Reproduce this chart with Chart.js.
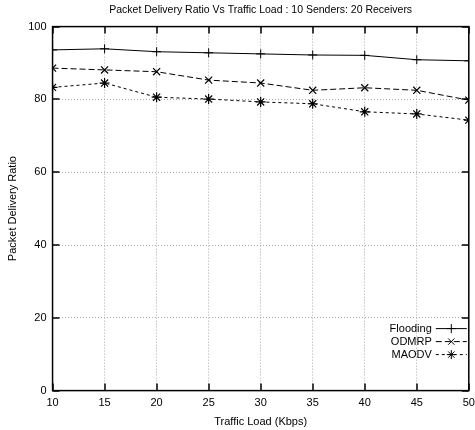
<!DOCTYPE html>
<html><head><meta charset="utf-8">
<script src="https://cdn.jsdelivr.net/npm/chart.js@4/dist/chart.umd.min.js"></script>
<style>html,body{margin:0;padding:0;background:#fff}canvas{display:block}</style>
</head><body>
<canvas id="c" width="475" height="430"></canvas>
<script>
const loads = [10, 15, 20, 25, 30, 35, 40, 45, 50];
const flooding = [93.6, 93.9, 93.1, 92.8, 92.5, 92.2, 92.1, 90.9, 90.6];
const odmrp = [88.6, 88.1, 87.6, 85.3, 84.5, 82.5, 83.2, 82.5, 79.8];
const maodv = [83.3, 84.5, 80.6, 80.1, 79.3, 78.8, 76.6, 76.0, 74.3];
const seriesNames = ['Flooding', 'ODMRP', 'MAODV'];
const yTicks = [0, 20, 40, 60, 80, 100];

const FONT = '"Liberation Sans", Arial, sans-serif';
const toPts = arr => arr.map((v, i) => ({x: loads[i], y: v}));

const insideTicks = {
  id: 'insideTicks',
  afterDraw(chart) {
    const {ctx, chartArea: a, scales: {x, y}} = chart;
    ctx.save();
    ctx.strokeStyle = '#000';
    ctx.lineWidth = 1.5;
    ctx.beginPath();
    loads.forEach(v => {
      const px = Math.round(x.getPixelForValue(v));
      ctx.moveTo(px, a.top); ctx.lineTo(px, a.top + 7);
      ctx.moveTo(px, a.bottom); ctx.lineTo(px, a.bottom - 7);
    });
    yTicks.forEach(v => {
      const py = Math.round(y.getPixelForValue(v));
      ctx.moveTo(a.left, py); ctx.lineTo(a.left + 7, py);
      ctx.moveTo(a.right, py); ctx.lineTo(a.right - 7, py);
    });
    ctx.stroke();
    ctx.lineWidth = 1.5;
    ctx.strokeRect(a.left, a.top, a.right - a.left, a.bottom - a.top);
    // legend
    ctx.font = '11px ' + FONT;
    ctx.textAlign = 'right';
    ctx.textBaseline = 'middle';
    const xr = a.right - 2, sampleW = 31;
    chart.data.datasets.forEach((ds, i) => {
      const yy = a.bottom - 62 + i * 13;
      ctx.fillStyle = '#000';
      ctx.fillText(ds.label, xr - sampleW - 4, yy);
      ctx.beginPath();
      ctx.setLineDash(ds.borderDash || []);
      ctx.lineWidth = 1;
      ctx.moveTo(xr - sampleW, yy); ctx.lineTo(xr, yy);
      ctx.stroke();
      ctx.setLineDash([]);
      const cx = xr - sampleW / 2, r = 4.5;
      ctx.beginPath();
      if (ds.pointStyle === 'cross') {
        ctx.moveTo(cx, yy - r); ctx.lineTo(cx, yy + r);
        ctx.moveTo(cx - r, yy); ctx.lineTo(cx + r, yy);
      } else if (ds.pointStyle === 'crossRot') {
        ctx.moveTo(cx - r*0.7, yy - r*0.7); ctx.lineTo(cx + r*0.7, yy + r*0.7);
        ctx.moveTo(cx - r*0.7, yy + r*0.7); ctx.lineTo(cx + r*0.7, yy - r*0.7);
      } else {
        ctx.moveTo(cx - r*0.7, yy - r*0.7); ctx.lineTo(cx + r*0.7, yy + r*0.7);
        ctx.moveTo(cx - r*0.7, yy + r*0.7); ctx.lineTo(cx + r*0.7, yy - r*0.7);
        ctx.moveTo(cx, yy - r); ctx.lineTo(cx, yy + r);
        ctx.moveTo(cx - r, yy); ctx.lineTo(cx + r, yy);
      }
      ctx.stroke();
    });
    ctx.restore();
  }
};

new Chart(document.getElementById('c'), {
  type: 'line',
  data: {
    datasets: [
      {label: seriesNames[0], data: toPts(flooding), borderColor: '#000', backgroundColor: '#000',
       borderWidth: 1, pointStyle: 'cross', pointRadius: 4.5, pointBorderWidth: 1, tension: 0},
      {label: seriesNames[1], data: toPts(odmrp), borderColor: '#000', backgroundColor: '#000',
       borderWidth: 1, borderDash: [6, 3], pointStyle: 'crossRot', pointRadius: 5, pointBorderWidth: 1.2, tension: 0},
      {label: seriesNames[2], data: toPts(maodv), borderColor: '#000', backgroundColor: '#000',
       borderWidth: 1, borderDash: [3, 3], pointStyle: 'star', pointRadius: 5, pointBorderWidth: 1.2, tension: 0}
    ]
  },
  options: {
    responsive: false,
    animation: false,
    layout: {padding: {left: 6, right: 6, top: 0, bottom: 1}},
    plugins: {
      legend: {display: false},
      tooltip: {enabled: false},
      title: {display: true, fullSize: false, text: 'Packet Delivery Ratio Vs Traffic Load : 10 Senders: 20 Receivers',
              color: '#000', font: {family: FONT, size: 10.5, weight: 'normal'}, padding: {top: 4, bottom: 10}}
    },
    scales: {
      x: {
        type: 'linear', min: 10, max: 50,
        afterBuildTicks: s => { s.ticks = loads.map(v => ({value: v})); },
        afterFit: s => { s.paddingRight = 0; },
        grid: {color: '#aaa', drawTicks: false, lineWidth: 1},
        border: {display: false, dash: [1, 2]},
        ticks: {color: '#000', font: {family: FONT, size: 11}, padding: 6},
        title: {display: true, text: 'Traffic Load (Kbps)', color: '#000', font: {family: FONT, size: 11}, padding: {top: 0, bottom: 0}}
      },
      y: {
        min: 0, max: 100,
        afterBuildTicks: s => { s.ticks = yTicks.map(v => ({value: v})); },
        grid: {color: '#aaa', drawTicks: false, lineWidth: 1},
        border: {display: false, dash: [1, 2]},
        ticks: {color: '#000', font: {family: FONT, size: 11}, padding: 6},
        title: {display: true, text: 'Packet Delivery Ratio', color: '#000', font: {family: FONT, size: 11}, padding: {top: 0, bottom: 3}}
      }
    }
  },
  plugins: [insideTicks]
});
</script>
</body></html>
